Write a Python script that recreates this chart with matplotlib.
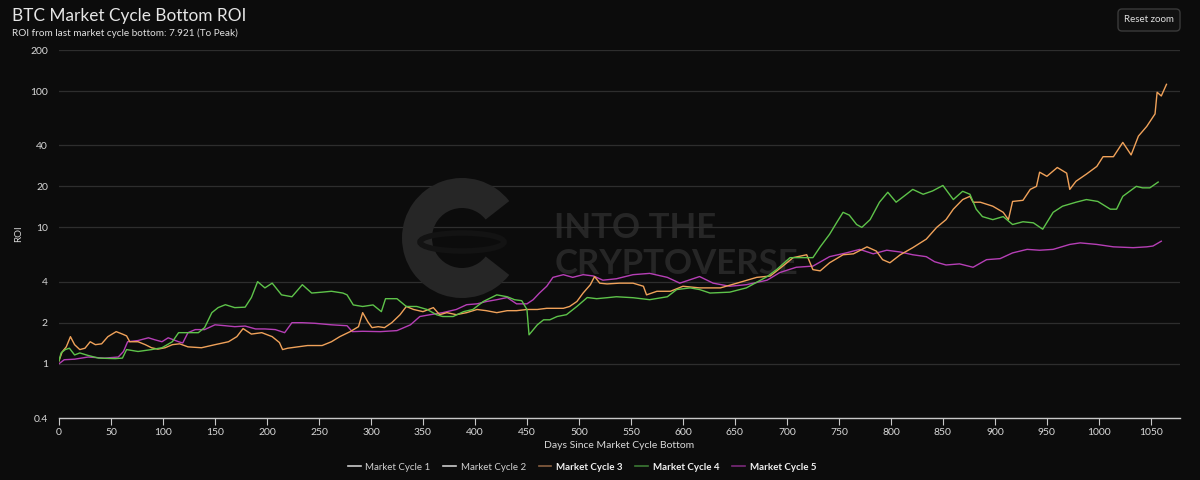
import matplotlib
matplotlib.use("Agg")
import matplotlib.pyplot as plt
from matplotlib.lines import Line2D
from matplotlib.patches import Wedge, Ellipse, FancyBboxPatch
from matplotlib.transforms import IdentityTransform

# ---------------- data ----------------
cycle3_days = [0, 3, 7, 11, 15, 20, 25, 30, 35, 41, 47, 55, 61, 65, 68, 76, 83, 89, 95, 102,
               109, 116, 124, 137, 150, 163, 171, 177, 185, 195, 205, 212, 215, 220, 230, 239,
               253, 262, 270, 280, 288, 292, 297, 301, 307, 313, 320, 328, 334, 341, 350, 360,
               366, 373, 382, 392, 402, 411, 421, 431, 440, 450, 460, 469, 479, 485, 491, 498,
               504, 511, 515, 520, 527, 539, 552, 562, 565, 575, 588, 600, 616, 636, 652, 671,
               684, 696, 706, 719, 725, 732, 741, 754, 764, 777, 786, 792, 799, 809, 821, 834,
               844, 853, 860, 869, 876, 879, 886, 898, 908, 913, 917, 927, 934, 940, 943, 950,
               960, 969, 972, 978, 988, 998, 1004, 1014, 1023, 1031, 1038, 1046, 1054, 1056,
               1060, 1065]
cycle3_roi = [1.05, 1.22, 1.33, 1.58, 1.38, 1.27, 1.30, 1.45, 1.38, 1.40, 1.58, 1.72, 1.65, 1.60,
              1.45, 1.45, 1.38, 1.31, 1.28, 1.31, 1.38, 1.40, 1.33, 1.31, 1.38, 1.45, 1.58, 1.81,
              1.65, 1.69, 1.58, 1.43, 1.27, 1.30, 1.33, 1.36, 1.36, 1.45, 1.58, 1.72, 1.87, 2.37,
              2.03, 1.84, 1.87, 1.84, 2.00, 2.29, 2.63, 2.50, 2.41, 2.58, 2.29, 2.37, 2.29, 2.37,
              2.50, 2.45, 2.37, 2.45, 2.45, 2.50, 2.50, 2.55, 2.55, 2.55, 2.63, 2.86, 3.30, 3.80,
              4.36, 3.90, 3.85, 3.90, 3.90, 3.70, 3.20, 3.40, 3.40, 3.70, 3.60, 3.60, 3.90, 4.30,
              4.40, 5.20, 6.00, 6.30, 4.90, 4.80, 5.50, 6.30, 6.40, 7.20, 6.70, 5.80, 5.50, 6.30,
              7.10, 8.20, 10.0, 11.4, 13.6, 16.0, 16.9, 15.3, 15.3, 14.3, 12.9, 11.4, 15.5, 15.8,
              19.0, 20.0, 25.4, 23.7, 27.5, 25.0, 19.0, 21.8, 24.6, 28.0, 33.0, 33.0, 42.0, 34.0,
              46.7, 55.0, 68.0, 98.0, 92.0, 112.0]

cycle4_days = [0, 2, 6, 10, 15, 20, 28, 38, 54, 61, 65, 76, 89, 99, 109, 115, 124, 134, 140, 147,
               153, 160, 169, 179, 185, 191, 198, 205, 214, 224, 234, 243, 253, 262, 273, 277,
               283, 292, 302, 310, 314, 325, 334, 344, 354, 363, 369, 379, 389, 398, 408, 421,
               431, 438, 445, 450, 452, 454, 460, 466, 472, 479, 488, 498, 508, 517, 527, 536,
               552, 568, 585, 594, 607, 616, 626, 645, 661, 681, 690, 703, 715, 725, 732, 741,
               748, 754, 760, 767, 772, 780, 789, 797, 805, 815, 821, 831, 840, 850, 860, 869,
               876, 882, 888, 898, 908, 917, 927, 937, 946, 956, 965, 978, 988, 999, 1011, 1017,
               1023, 1036, 1042, 1049, 1057]
cycle4_roi = [1.05, 1.20, 1.27, 1.30, 1.16, 1.20, 1.15, 1.10, 1.09, 1.10, 1.27, 1.23, 1.27, 1.31,
              1.45, 1.69, 1.69, 1.69, 1.84, 2.37, 2.58, 2.71, 2.58, 2.60, 3.06, 4.00, 3.60, 3.90,
              3.20, 3.10, 3.80, 3.30, 3.35, 3.40, 3.30, 3.20, 2.70, 2.63, 2.70, 2.41, 3.00, 3.00,
              2.63, 2.63, 2.50, 2.29, 2.22, 2.22, 2.41, 2.50, 2.86, 3.20, 3.10, 2.95, 2.90, 2.50,
              1.63, 1.70, 1.93, 2.10, 2.10, 2.22, 2.29, 2.63, 3.06, 3.00, 3.05, 3.10, 3.05, 2.95,
              3.10, 3.50, 3.60, 3.50, 3.30, 3.35, 3.60, 4.36, 4.90, 6.00, 6.00, 6.00, 7.20, 8.90,
              10.9, 12.9, 12.3, 10.5, 10.0, 11.4, 15.3, 18.1, 15.3, 17.5, 19.0, 17.5, 18.5, 20.3,
              16.0, 18.4, 17.5, 13.6, 12.0, 11.4, 12.0, 10.5, 11.0, 10.8, 9.7, 12.9, 14.3, 15.3,
              16.0, 15.5, 13.6, 13.6, 16.9, 20.0, 19.5, 19.5, 21.5]

cycle5_days = [0, 5, 15, 28, 44, 57, 62, 66, 76, 86, 92, 99, 105, 115, 119, 124, 131, 140, 150,
               160, 169, 179, 189, 198, 208, 217, 224, 234, 246, 262, 277, 282, 292, 309, 325,
               338, 347, 357, 369, 382, 392, 402, 411, 421, 431, 440, 450, 456, 462, 469, 475,
               485, 494, 504, 514, 523, 536, 552, 568, 585, 597, 616, 629, 645, 661, 681, 693,
               709, 725, 741, 757, 770, 783, 796, 809, 821, 834, 842, 853, 866, 879, 892, 905,
               917, 931, 943, 956, 972, 982, 998, 1014, 1033, 1046, 1052, 1060]
cycle5_roi = [1.00, 1.07, 1.08, 1.12, 1.10, 1.12, 1.23, 1.45, 1.48, 1.55, 1.50, 1.45, 1.55, 1.45,
              1.42, 1.69, 1.78, 1.78, 1.93, 1.90, 1.87, 1.89, 1.80, 1.80, 1.78, 1.69, 2.00, 2.00,
              1.98, 1.93, 1.90, 1.72, 1.73, 1.72, 1.75, 1.93, 2.22, 2.29, 2.37, 2.50, 2.71, 2.75,
              2.86, 2.95, 3.06, 2.75, 2.75, 2.95, 3.30, 3.70, 4.30, 4.50, 4.30, 4.50, 4.40, 4.10,
              4.20, 4.50, 4.60, 4.30, 3.90, 4.36, 3.90, 3.70, 3.80, 4.10, 4.66, 5.10, 5.20, 6.10,
              6.50, 6.90, 6.40, 6.80, 6.60, 6.30, 6.10, 5.60, 5.30, 5.40, 5.10, 5.80, 5.90, 6.50,
              6.90, 6.80, 6.90, 7.50, 7.70, 7.50, 7.20, 7.10, 7.20, 7.30, 7.92]

series_names = ["Market Cycle 1", "Market Cycle 2", "Market Cycle 3", "Market Cycle 4", "Market Cycle 5"]
y_ticks = [0.4, 1, 2, 4, 10, 20, 40, 100, 200]
y_tick_labels = ["0.4", "1", "2", "4", "10", "20", "40", "100", "200"]
x_ticks = list(range(0, 1051, 50))

# ---------------- style ----------------
BG = "#0c0c0c"
C3, C4, C5 = "#f0a25a", "#5ec34a", "#b63fb6"
FONT = ["Lato", "DejaVu Sans"]
plt.rcParams["font.family"] = FONT

W, H = 1200, 480
fig = plt.figure(figsize=(12, 4.8), dpi=100, facecolor=BG)
ax = fig.add_axes([59 / W, 1 - 418 / H, (1180 - 59) / W, (418 - 50) / H])
ax.set_facecolor(BG)

# watermark (behind data)
wm_col = "#262626"
fig.patches.append(Wedge((462, H - 238), 60, 38, 322, width=30, transform=IdentityTransform(),
                         facecolor=wm_col, edgecolor="none", zorder=0))
fig.patches.append(Ellipse((462, H - 242), 84, 18, transform=IdentityTransform(),
                           facecolor="none", edgecolor="#131313", linewidth=4, zorder=0.1))
ax.text(0.442, 0.515, "INTO THE", transform=ax.transAxes, fontsize=25, fontweight="bold",
        color=wm_col, va="center", ha="left", zorder=0.5)
ax.text(0.442, 0.418, "CRYPTOVERSE", transform=ax.transAxes, fontsize=25, fontweight="bold",
        color=wm_col, va="center", ha="left", zorder=0.5)

ax.plot(cycle3_days, cycle3_roi, color=C3, lw=1.0, zorder=3)
ax.plot(cycle4_days, cycle4_roi, color=C4, lw=1.0, zorder=4)
ax.plot(cycle5_days, cycle5_roi, color=C5, lw=1.0, zorder=2)

ax.set_yscale("log")
ax.set_ylim(0.4, 200)
ax.set_xlim(0, 1078)
ax.set_yticks(y_ticks)
ax.set_yticklabels(y_tick_labels)
ax.yaxis.set_minor_locator(matplotlib.ticker.NullLocator())
ax.set_xticks(x_ticks)
ax.set_xticklabels([str(t) for t in x_ticks])

for t in y_ticks:
    ax.axhline(t, color="#2e2e2e", lw=0.9, zorder=1)

for s in ["top", "right", "left"]:
    ax.spines[s].set_visible(False)
ax.spines["bottom"].set_color("#c8c8c8")
ax.spines["bottom"].set_linewidth(1.0)
ax.spines["bottom"].set_zorder(5)
ax.tick_params(axis="y", length=0, colors="#d8d8d8", labelsize=7.5, pad=8)
ax.tick_params(axis="x", length=5, width=0.8, color="#c8c8c8", labelcolor="#d8d8d8",
               labelsize=7.5, pad=2, direction="out")

ax.set_xlabel("Days Since Market Cycle Bottom", color="#d8d8d8", fontsize=7.5, labelpad=3)
ax.set_ylabel("ROI", color="#d8d8d8", fontsize=7, labelpad=5)

fig.text(12 / W, 1 - 16 / H, "BTC Market Cycle Bottom ROI", color="#e6e6e6", fontsize=12.4,
         va="center", ha="left")
fig.text(12 / W, 1 - 33 / H, "ROI from last market cycle bottom: 7.921 (To Peak)", color="#e0e0e0",
         fontsize=7.2, va="center", ha="left")

# Reset zoom button
fig.patches.append(FancyBboxPatch((1118, H - 31), 62, 22, boxstyle="round,pad=0,rounding_size=4",
                                  transform=IdentityTransform(), facecolor="#111111",
                                  edgecolor="#3a3a3a", linewidth=1.0))
fig.text(1149 / W, 1 - 20 / H, "Reset zoom", color="#e0e0e0", fontsize=7, ha="center", va="center")

# legend
leg_colors = ["#cccccc", "#cccccc", "#8a6040", "#3c7a34", "#7a2a7a"]
handles = [Line2D([], [], color=c, lw=1.2) for c in leg_colors]
leg = fig.legend(handles, series_names, loc="center", bbox_to_anchor=(0.485, 1 - 467 / H), ncol=5,
                 frameon=False, fontsize=7, handlelength=1.3, handletextpad=0.5, columnspacing=1.3)
for i, txt in enumerate(leg.get_texts()):
    if i < 2:
        txt.set_color("#d0d0d0")
    else:
        txt.set_color("#f0f0f0")
        txt.set_fontweight("bold")

fig.savefig("out.png", dpi=100, facecolor=BG)
